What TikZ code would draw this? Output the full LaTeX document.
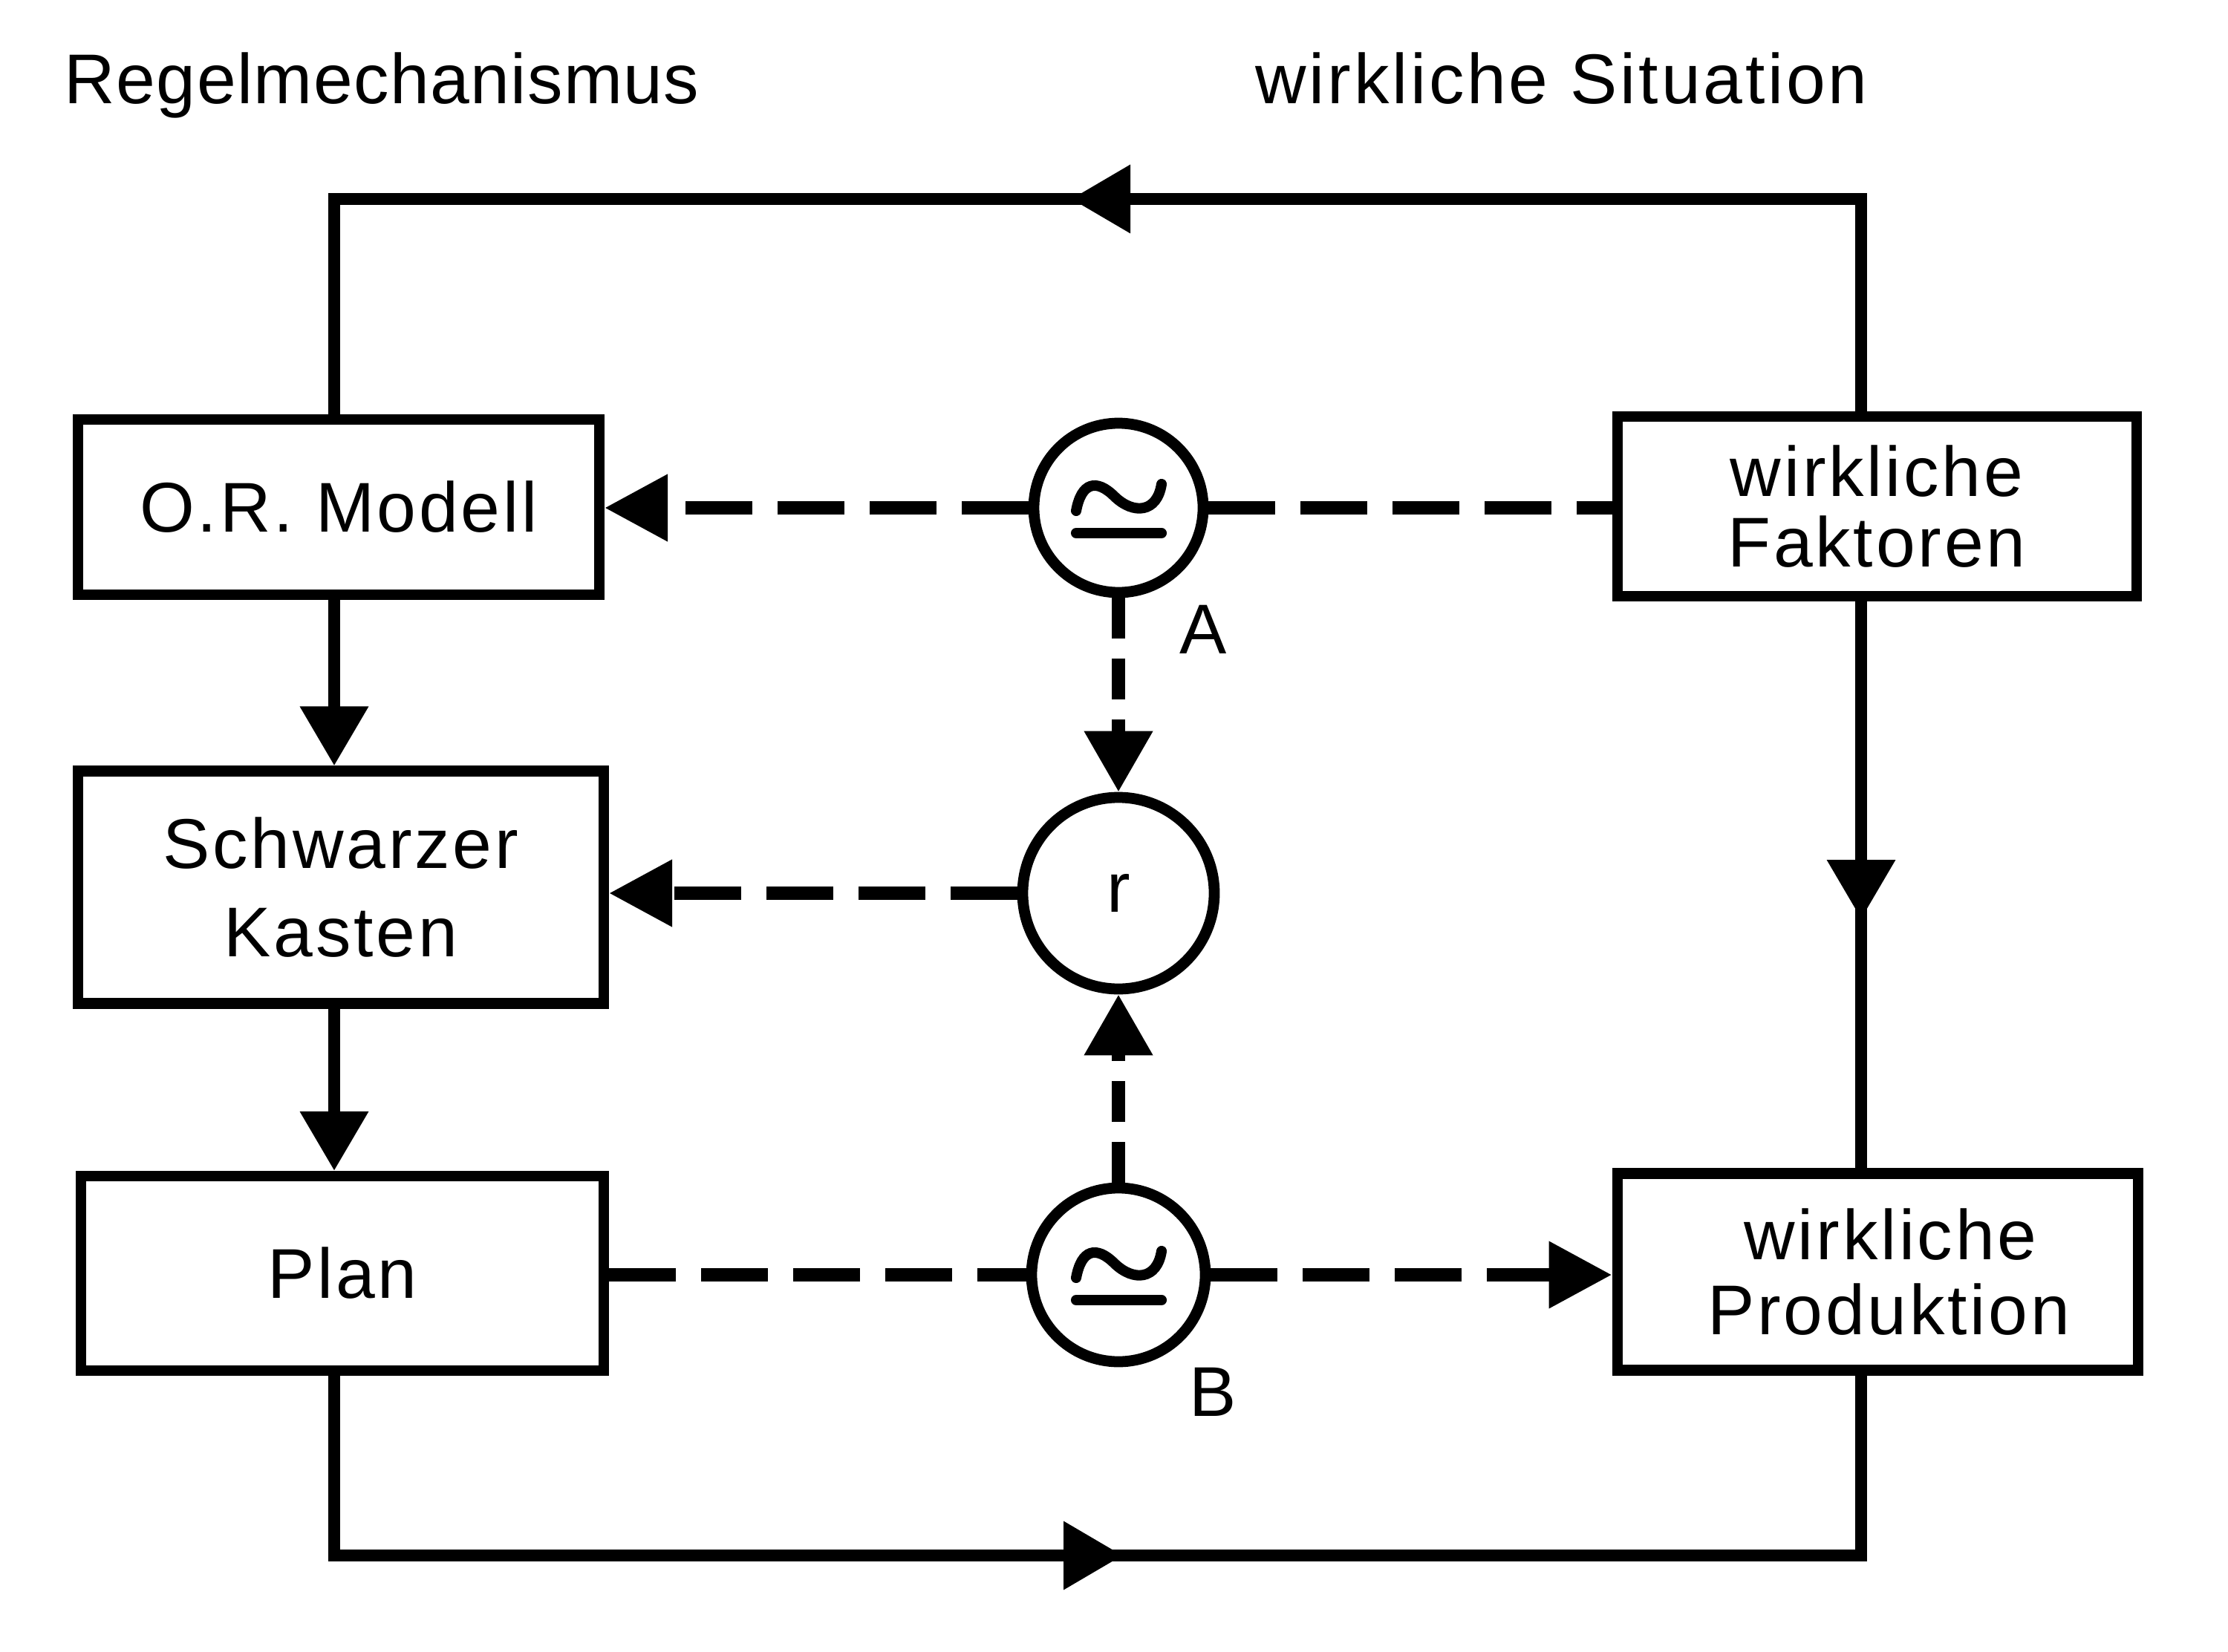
\documentclass[tikz,border=0pt]{standalone}
\usepackage{fontspec}
\setmainfont{Liberation Sans}[LetterSpace=4]
\usetikzlibrary{arrows.meta}

\tikzset{
  box/.style={draw, line width=4pt, align=center, inner sep=0pt},
  ring/.style={draw, circle, line width=4.2pt, inner sep=0pt},
  flow/.style={line width=4.8pt, >={Triangle[length=0.8cm,width=0.88cm]}},
  signal/.style={line width=5pt, dash pattern=on 0.9cm off 0.34cm, >={Triangle[length=0.85cm,width=0.86cm]}},
  probe/.style={line width=5pt, dash pattern=on 0.55cm off 0.27cm, >={Triangle[length=0.82cm,width=0.88cm]}},
  approx/.style={line width=4pt, line cap=round},
}

\begin{document}
\begin{tikzpicture}[font=\fontsize{27}{34}\selectfont]
\useasboundingbox (0,0) rectangle (30,22.24);

\node[anchor=base west, inner sep=0pt] (ttl) at (0.86,20.84) {\addfontfeatures{LetterSpace=1.5}Regelmechanismus};
\node[anchor=base west, inner sep=0pt] (ttr) at (16.9,20.84) {wirkliche Situation};

\node[box, minimum width=7.02cm, minimum height=2.36cm] (orm) at (4.56,15.41) {O.R. Modell};
\node[box, minimum width=7.08cm, minimum height=3.13cm] (sk) at (4.59,10.29) {Schwarzer\\Kasten};
\node[box, minimum width=7.04cm, minimum height=2.62cm] (plan) at (4.61,5.09) {Plan};
\node[box, minimum width=6.99cm, minimum height=2.42cm] (wf) at (25.27,15.42) {wirkliche\\[-7pt]Faktoren};
\node[box, minimum width=7.01cm, minimum height=2.65cm] (wp) at (25.28,5.11) {\hspace*{0.35cm}wirkliche\\[-5.5pt]\hspace*{0.3cm}Produktion};

\node[ring, minimum size=2.28cm] (A) at (15.06,15.40) {};
\node[ring, minimum size=2.58cm] (r) at (15.06,10.21) {r};
\node[ring, minimum size=2.34cm] (B) at (15.06,5.07) {};
\node[anchor=base] (la) at (16.2,13.44) {A};
\node[anchor=base] (lb) at (16.33,3.17) {B};

\foreach \c in {A,B} {
  \draw[approx, shift={(\c)}] (-0.57,-0.04) .. controls (-0.5,0.34) and (-0.3,0.4) .. (-0.05,0.15)
    .. controls (0.2,-0.09) and (0.52,-0.07) .. (0.58,0.32);
  \draw[approx, shift={(\c)}] (-0.57,-0.34) -- (0.58,-0.34);
}

\coordinate (tl) at (4.5,19.56);
\coordinate (tr) at (25.06,19.56);
\coordinate (tm) at (14.42,19.56);
\coordinate (bl) at (4.5,1.29);
\coordinate (br) at (25.06,1.29);
\coordinate (bm) at (15.12,1.29);
\coordinate (rmid) at (25.06,9.86);

\draw[flow] (orm.north -| tl) -- (tl) -- (tr) -- (wf.north -| tr);
\draw[flow,->] (tr) -- (tm);
\draw[flow] (plan.south -| bl) -- (bl) -- (br) -- (wp.south -| br);
\draw[flow,->] (bl) -- (bm);
\draw[flow] (wf.south -| tr) -- (wp.north -| tr);
\draw[flow,->] (wf.south -| tr) -- (rmid);
\draw[flow,->] (orm.south -| tl) -- (sk.north -| tl);
\draw[flow,->] (sk.south -| tl) -- (plan.north -| tl);

\draw[signal,->] (A.west) -- (A.west -| orm.east);
\draw[signal] (A.east) -- (A.east -| wf.west);
\draw[signal,->] (r.west) -- (r.west -| sk.east);
\draw[signal] (plan.east |- B.west) -- (B.west);
\draw[signal,->] (B.east) -- (B.east -| wp.west);
\draw[probe,->] (A) -- (r);
\draw[probe,->] (B) -- (r);

\end{tikzpicture}
\end{document}
